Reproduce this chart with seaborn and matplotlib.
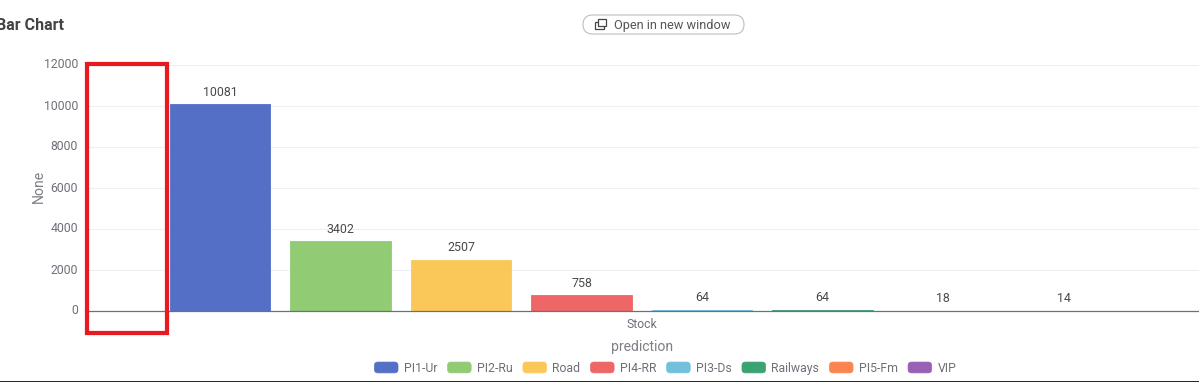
import matplotlib
matplotlib.use("Agg")
import matplotlib.pyplot as plt
import matplotlib.transforms as mtrans
import pandas as pd
import seaborn as sns
from matplotlib.legend_handler import HandlerPatch
from matplotlib.patches import FancyBboxPatch, Rectangle

predictions = ["PI1-Ur", "PI2-Ru", "Road", "PI4-RR", "PI3-Ds", "Railways", "PI5-Fm", "VIP"]
counts = [10081, 3402, 2507, 758, 64, 64, 18, 14]
colors = ["#5470C6", "#91CC75", "#FAC858", "#EE6666", "#73C0DE", "#3BA272", "#FC8452", "#9A60B4"]
yticks = [0, 2000, 4000, 6000, 8000, 10000, 12000]
category = "Stock"

W, H = 1199, 382
px = 72 / 100  # points per pixel at dpi 100

sns.set_theme(style="white")
plt.rcParams["font.family"] = ["Roboto", "DejaVu Sans"]

fig = plt.figure(figsize=(W / 100, H / 100), dpi=100, facecolor="white")
L, R, T, B = 85, 1199, 65, 311
ax = fig.add_axes([L / W, 1 - B / H, (R - L) / W, (B - T) / H])

df = pd.DataFrame({"x": [category] * len(counts), "prediction": predictions, "count": counts})
sns.barplot(data=df, x="x", y="count", hue="prediction", hue_order=predictions,
            palette=colors, width=1.0, gap=0.166, saturation=1, legend=False,
            linewidth=0, ax=ax)

span = 964.0
center = 641.8
ax.set_xlim((L - center) / span, (R - center) / span)
ax.set_ylim(0, 12000)
ax.set_yticks(yticks)
ax.set_xlabel("")
ax.set_ylabel("None", fontsize=14 * px, color="#7d7f85")
ax.yaxis.set_label_coords((46 - L) / (R - L), (B - 186) / (B - T))
ax.tick_params(axis="y", length=0, labelsize=12.3 * px, labelcolor="#6E7079", pad=5)
ax.tick_params(axis="x", length=0, labelsize=12.3 * px, labelcolor="#6E7079", pad=5)
up = mtrans.ScaledTranslation(0, 1.5 / 100, fig.dpi_scale_trans)
for lab in ax.get_yticklabels():
    lab.set_transform(lab.get_transform() + up)
ax.grid(axis="y", color="#EEEFF3", linewidth=0.8)
ax.set_axisbelow(True)
for s in ["top", "left", "right"]:
    ax.spines[s].set_visible(False)
ax.spines["bottom"].set_color("#6E7079")
ax.spines["bottom"].set_linewidth(0.9)

for c in ax.containers:
    for p in c.patches:
        p.set_edgecolor(p.get_facecolor())
        p.set_linewidth(0.6)
    ax.bar_label(c, padding=4, fontsize=12.4 * px, color="#4a4a4a")


class RoundHandler(HandlerPatch):
    def create_artists(self, legend, orig, xd, yd, width, height, fontsize, trans):
        p = FancyBboxPatch((-xd + 0.5, -yd + 0.5), width - 1, height - 1,
                           boxstyle="round,pad=0,rounding_size=2.5",
                           facecolor=orig.get_facecolor(), edgecolor=orig.get_facecolor(),
                           linewidth=0.5, transform=trans)
        return [p]


handles = [Rectangle((0, 0), 1, 1, facecolor=c) for c in colors]
leg = fig.legend(handles, predictions, ncol=len(predictions), loc="center",
                 bbox_to_anchor=(665 / W, 1 - 368 / H),
                 frameon=False, fontsize=12.3 * px, labelcolor="#6E7079",
                 handlelength=2.03, handleheight=1.15, handletextpad=0.41,
                 columnspacing=0.78, borderpad=0, labelspacing=0,
                 handler_map={Rectangle: RoundHandler()})

fig.text(642 / W, 1 - 347 / H, "prediction", ha="center", va="center",
         fontsize=14 * px, color="#7d7f85")
fig.text(64 / W, 1 - 25 / H, "Bar Chart", ha="right", va="center",
         fontsize=16 * px, fontweight="bold", color="#444444")

# page furniture drawn in figure pixels
fig_tr = fig.transFigure


def fx(x):
    return x / W


def fy(y):
    return 1 - y / H


fig.add_artist(Rectangle((fx(87.3), fy(333)), 79.7 / W, 268.7 / H, transform=fig_tr,
                         fill=False, edgecolor="#E8191F", linewidth=4.2 * px, zorder=10))
btn = FancyBboxPatch((583, H - 34), 161, 19, boxstyle="round,pad=0,rounding_size=9.5",
                     transform=None, facecolor="white", edgecolor="#BDBDBD", linewidth=0.8)
fig.add_artist(btn)
fig.add_artist(Rectangle((fx(595), fy(29)), 8.5 / W, 7 / H, transform=fig_tr,
                         facecolor="white", edgecolor="#444444", linewidth=0.9))
fig.add_artist(Rectangle((fx(598), fy(26)), 8 / W, 7 / H, transform=fig_tr,
                         facecolor="white", edgecolor="#444444", linewidth=0.9))
fig.text(fx(614), fy(25), "Open in new window", ha="left", va="center",
         fontsize=12.8 * px, color="#555555")
fig.add_artist(Rectangle((0, 0), 1, 1.5 / H, transform=fig_tr, facecolor="#1f2a3a", edgecolor="none"))

fig.savefig("out.png", dpi=100, facecolor="white")
